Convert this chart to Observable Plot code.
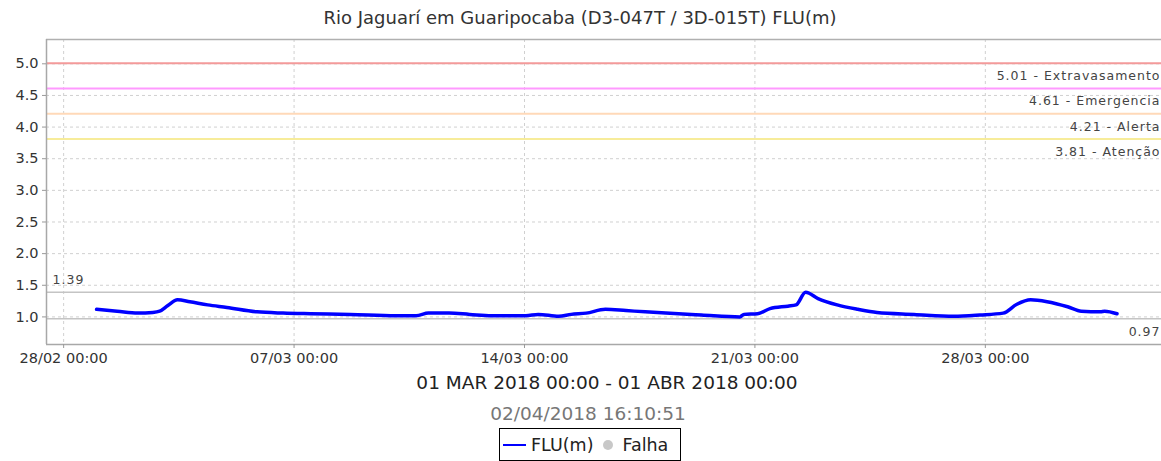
<!DOCTYPE html>
<html>
<head>
<meta charset="utf-8">
<script src="https://cdn.jsdelivr.net/npm/d3@7"></script>
<script src="https://cdn.jsdelivr.net/npm/@observablehq/plot@0.6"></script>
<style>
  html, body { margin: 0; padding: 0; overflow: hidden; background: #fff; width: 1161px; height: 461px; }
  body { font-family: "DejaVu Sans", sans-serif; position: relative; }
  #chart { position: absolute; left: 0; top: 0; width: 1170px; }
  #chart svg { max-width: none !important; }
  .t { position: absolute; white-space: nowrap; text-align: center; transform: translateX(-50%); line-height: 22px; }
  #title { top: 7px; left: 580px; font-size: 18px; color: #333; }
  #range { top: 372px; left: 607px; font-size: 18.5px; color: #222; }
  #stamp { top: 403px; left: 588px; font-size: 18.5px; color: #777; }
  #legend { position: absolute; left: 499px; top: 428px; width: 180px; height: 31px; border: 1px solid #000; display: flex; align-items: center; font-size: 17.5px; color: #222; }
  #legend .ln { display: inline-block; width: 23px; height: 2px; background: #0000ff; margin: 0 5px 0 3px; }
  #legend .dot { display: inline-block; width: 10px; height: 10px; border-radius: 50%; background: #c8c8c8; margin: 0 9px 0 10px; }
</style>
</head>
<body>
<div id="chart"></div>
<div id="title" class="t">Rio Jaguarí em Guaripocaba (D3-047T / 3D-015T) FLU(m)</div>
<div id="range" class="t">01 MAR 2018 00:00 - 01 ABR 2018 00:00</div>
<div id="stamp" class="t">02/04/2018 16:10:51</div>
<div id="legend"><span class="ln"></span><span>FLU(m)</span><span class="dot"></span><span>Falha</span></div>
<script>
// ---- data ----
const times = [
  "2018-03-01T00:00", "2018-03-01T15:00", "2018-03-02T06:00", "2018-03-02T17:00",
  "2018-03-02T22:00", "2018-03-03T04:00", "2018-03-03T11:00", "2018-03-03T20:00",
  "2018-03-04T09:00", "2018-03-04T23:00", "2018-03-05T21:00", "2018-03-06T16:00",
  "2018-03-07T12:00", "2018-03-08T17:00", "2018-03-10T02:00", "2018-03-10T17:00",
  "2018-03-11T02:00", "2018-03-11T17:00", "2018-03-12T08:00", "2018-03-13T00:00",
  "2018-03-14T01:00", "2018-03-14T10:00", "2018-03-15T01:00", "2018-03-15T10:00",
  "2018-03-15T21:00", "2018-03-16T11:00", "2018-03-17T02:00", "2018-03-17T16:00",
  "2018-03-18T07:00", "2018-03-19T09:00", "2018-03-20T13:00", "2018-03-20T16:00",
  "2018-03-21T02:00", "2018-03-21T11:00", "2018-03-22T00:00", "2018-03-22T06:00",
  "2018-03-22T13:00", "2018-03-22T22:00", "2018-03-23T12:00", "2018-03-24T03:00",
  "2018-03-24T17:00", "2018-03-25T20:00", "2018-03-27T01:00", "2018-03-27T20:00",
  "2018-03-28T13:00", "2018-03-28T23:00", "2018-03-29T09:00", "2018-03-29T21:00",
  "2018-03-30T12:00", "2018-03-30T22:00", "2018-03-31T12:00", "2018-03-31T15:00",
  "2018-04-01T00:00"
];
const levels = [
  1.12, 1.09, 1.06, 1.07,
  1.09, 1.18, 1.27, 1.24,
  1.19, 1.15, 1.08, 1.06,
  1.05, 1.04, 1.02, 1.02,
  1.06, 1.06, 1.04, 1.02,
  1.02, 1.04, 1.01, 1.04,
  1.06, 1.12, 1.10, 1.08,
  1.06, 1.03, 1.00, 1.04,
  1.05, 1.13, 1.17, 1.19,
  1.39, 1.29, 1.19, 1.12,
  1.07, 1.04, 1.01, 1.03,
  1.06, 1.20, 1.27, 1.24,
  1.16, 1.09, 1.08, 1.09,
  1.05
];
const thresholdValues = [5.01, 4.61, 4.21, 3.81];
const thresholdNames = ["Extravasamento", "Emergencia", "Alerta", "Atenção"];
const thresholdColors = ["#f39a9a", "#ff99ff", "#ffd9b8", "#f7ec9a"];
const maxValue = 1.39;
const minValue = 0.97;
const xTickDates = ["2018-02-28", "2018-03-07", "2018-03-14", "2018-03-21", "2018-03-28"];
const xTickLabels = ["28/02 00:00", "07/03 00:00", "14/03 00:00", "21/03 00:00", "28/03 00:00"];
const yTicks = [1.0, 1.5, 2.0, 2.5, 3.0, 3.5, 4.0, 4.5, 5.0];
const xDomain = [new Date("2018-02-27T11:30Z"), new Date("2018-04-02T15:00Z")];
const yDomain = [0.564, 5.384];

// ---- build ----
const series = times.map((t, i) => ({ t: new Date(t + "Z"), v: levels[i] }));
const thresholds = thresholdValues.map((v, i) => ({ v, name: thresholdNames[i], color: thresholdColors[i] }));
const xTicks = xTickDates.map(d => new Date(d + "T00:00Z"));

const grid = "#d0d0d0";
const labelStyle = { fontSize: 12.5, fill: "#444" };
const chart = Plot.plot({
  width: 1170,
  height: 365,
  marginLeft: 46,
  marginRight: 0,
  marginTop: 39,
  marginBottom: 21,
  style: { fontFamily: "DejaVu Sans, sans-serif", background: "transparent", overflow: "visible", maxWidth: "none" },
  x: { type: "utc", domain: xDomain },
  y: { domain: yDomain },
  marks: [
    Plot.ruleY(yTicks, { stroke: grid, strokeDasharray: "3,3", strokeWidth: 1 }),
    Plot.ruleX(xTicks, { stroke: grid, strokeDasharray: "3,3", strokeWidth: 1 }),
    Plot.ruleY(thresholds, { y: "v", stroke: "color", strokeWidth: 2 }),
    Plot.text(thresholds, {
      x: () => xDomain[1], y: "v", text: d => `${d.v.toFixed(2)} - ${d.name}`,
      textAnchor: "end", dx: -10, dy: 13, ...labelStyle
    }),
    Plot.ruleY([maxValue, minValue], { stroke: "#c4c4c4", strokeWidth: 1.5 }),
    Plot.text([maxValue], { x: () => xDomain[0], y: d => d, text: d => d.toFixed(2), textAnchor: "start", dx: 6, dy: -12, ...labelStyle }),
    Plot.text([minValue], { x: () => xDomain[1], y: d => d, text: d => d.toFixed(2), textAnchor: "end", dx: -10, dy: 13, ...labelStyle }),
    Plot.line(series, { x: "t", y: "v", stroke: "#0000ff", strokeWidth: 3.5, curve: "monotone-x" }),
    Plot.ruleY([yDomain[1]], { stroke: "#b0b0b0", strokeWidth: 1.5 }),
    Plot.ruleY([yDomain[0]], { stroke: "#a8a8a8", strokeWidth: 1.5 }),
    Plot.ruleX([xDomain[0]], { stroke: "#a8a8a8", strokeWidth: 1.5 }),
    Plot.axisX({ ticks: xTicks, tickFormat: (d, i) => xTickLabels[i], tickSize: 4, tickPadding: 4, fontSize: 14.5, color: "#333", stroke: "#999", label: null }),
    Plot.axisY({ ticks: yTicks, tickFormat: d => d.toFixed(1), tickSize: 4, tickPadding: 4, fontSize: 14.5, color: "#333", stroke: "#999", label: null })
  ]
});
d3.select(chart).selectAll('g[aria-label="text"] text').attr("letter-spacing", "1px");
document.getElementById("chart").appendChild(chart);
</script>
</body>
</html>
